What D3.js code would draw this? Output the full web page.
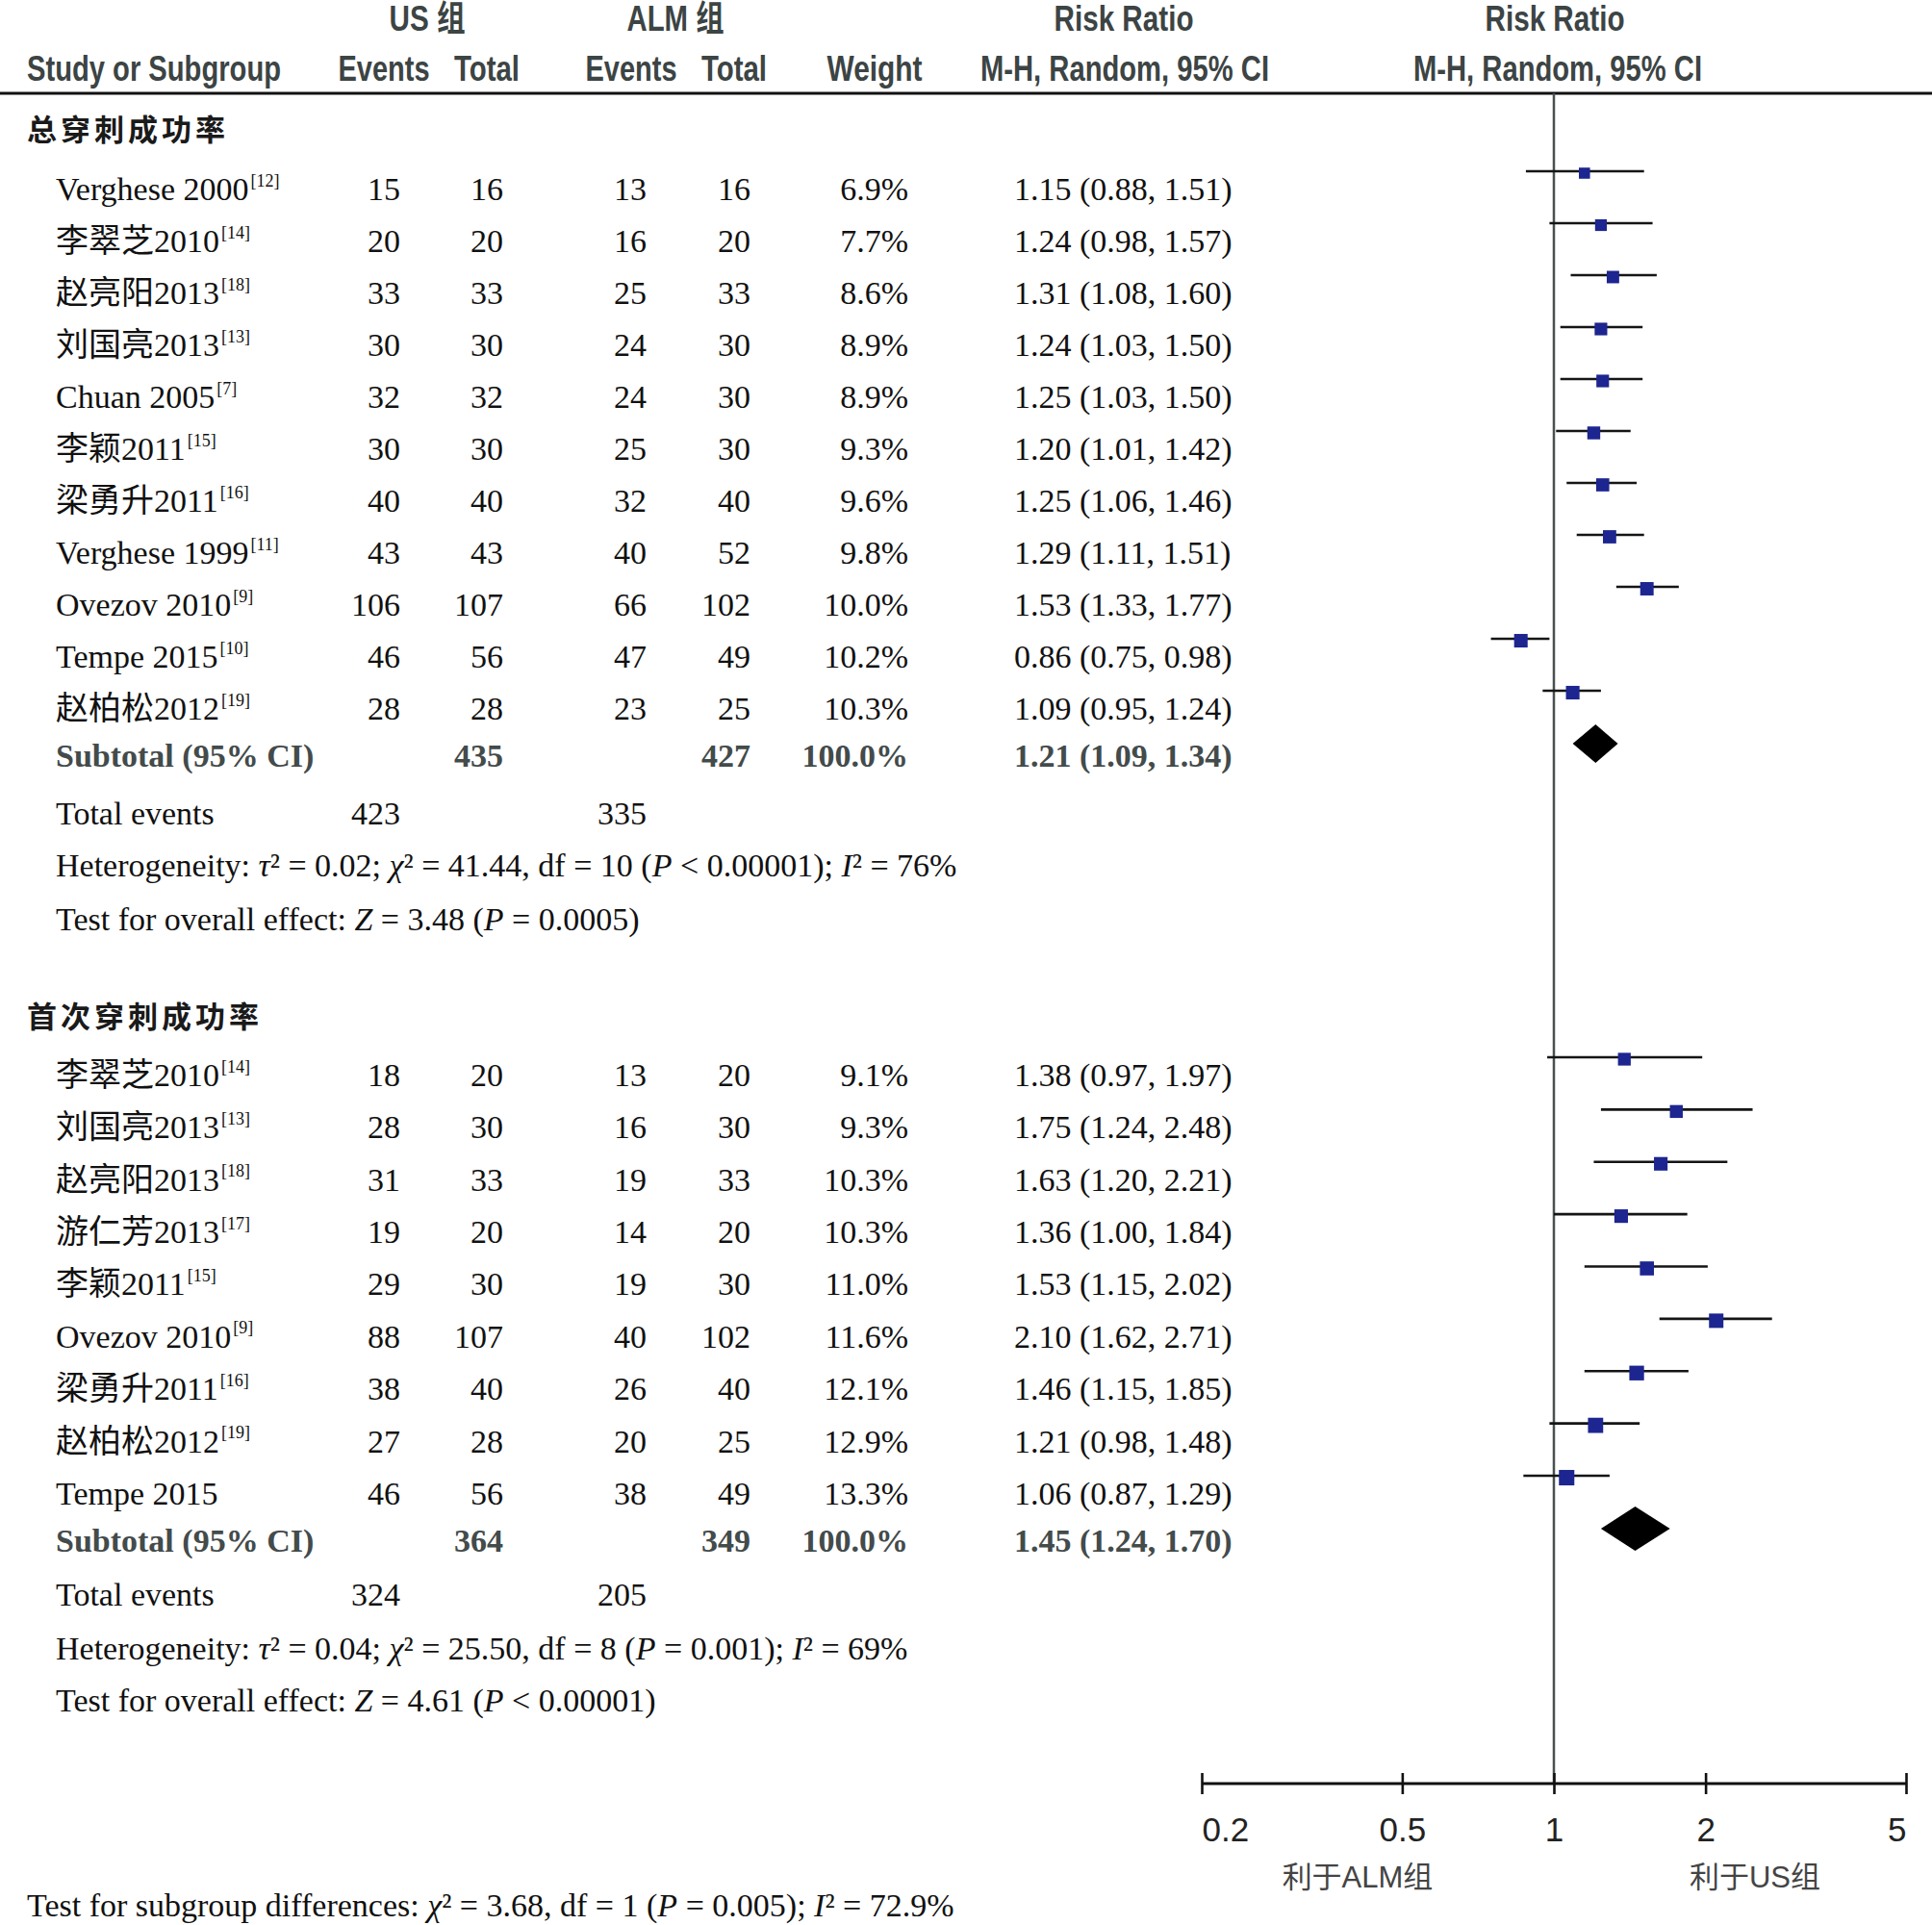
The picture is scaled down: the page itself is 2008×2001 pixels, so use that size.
<!DOCTYPE html>
<html>
<head>
<meta charset="utf-8">
<script src="https://cdn.jsdelivr.net/npm/d3@7/dist/d3.min.js"></script>
<style>
  body { margin: 0; background: #fff; }
  .hdr { font-family: "Liberation Sans", Arial, sans-serif; font-weight: bold; font-size: 36px; fill: #3c4444; }
  .hdr-cjk { font-family: "Liberation Sans", "Noto Sans CJK SC", sans-serif; }
  .body { font-family: "Liberation Serif", "Noto Sans CJK SC", serif; font-size: 34px; fill: #111; }
  .sub { font-weight: bold; fill: #434b4b; }
  .grp { font-family: "Noto Sans CJK SC", sans-serif; font-weight: bold; font-size: 31px; letter-spacing: 4px; fill: #1a1a1a; }
  .tick text { font-family: "Liberation Sans", Arial, sans-serif; font-size: 35px; fill: #222; }
  .dir { font-family: "Liberation Sans", "Noto Sans CJK SC", sans-serif; font-size: 31px; fill: #444; }
</style>
</head>
<body>
<svg id="forest" width="2008" height="2001"></svg>
<script>
// ---- data: 总穿刺成功率 ----
const names1    = ["Verghese 2000", "李翠芝2010", "赵亮阳2013", "刘国亮2013", "Chuan 2005", "李颖2011", "梁勇升2011", "Verghese 1999", "Ovezov 2010", "Tempe 2015", "赵柏松2012"];
const refs1     = ["12", "14", "18", "13", "7", "15", "16", "11", "9", "10", "19"];
const usEv1     = [15, 20, 33, 30, 32, 30, 40, 43, 106, 46, 28];
const usTot1    = [16, 20, 33, 30, 32, 30, 40, 43, 107, 56, 28];
const almEv1    = [13, 16, 25, 24, 24, 25, 32, 40, 66, 47, 23];
const almTot1   = [16, 20, 33, 30, 30, 30, 40, 52, 102, 49, 25];
const weight1   = [6.9, 7.7, 8.6, 8.9, 8.9, 9.3, 9.6, 9.8, 10.0, 10.2, 10.3];
const rr1       = [1.15, 1.24, 1.31, 1.24, 1.25, 1.20, 1.25, 1.29, 1.53, 0.86, 1.09];
const lo1       = [0.88, 0.98, 1.08, 1.03, 1.03, 1.01, 1.06, 1.11, 1.33, 0.75, 0.95];
const hi1       = [1.51, 1.57, 1.60, 1.50, 1.50, 1.42, 1.46, 1.51, 1.77, 0.98, 1.24];
const subtotal1 = { usTot: 435, almTot: 427, rr: 1.21, lo: 1.09, hi: 1.34, usEv: 423, almEv: 335 };

// ---- data: 首次穿刺成功率 ----
const names2    = ["李翠芝2010", "刘国亮2013", "赵亮阳2013", "游仁芳2013", "李颖2011", "Ovezov 2010", "梁勇升2011", "赵柏松2012", "Tempe 2015"];
const refs2     = ["14", "13", "18", "17", "15", "9", "16", "19", ""];
const usEv2     = [18, 28, 31, 19, 29, 88, 38, 27, 46];
const usTot2    = [20, 30, 33, 20, 30, 107, 40, 28, 56];
const almEv2    = [13, 16, 19, 14, 19, 40, 26, 20, 38];
const almTot2   = [20, 30, 33, 20, 30, 102, 40, 25, 49];
const weight2   = [9.1, 9.3, 10.3, 10.3, 11.0, 11.6, 12.1, 12.9, 13.3];
const rr2       = [1.38, 1.75, 1.63, 1.36, 1.53, 2.10, 1.46, 1.21, 1.06];
const lo2       = [0.97, 1.24, 1.20, 1.00, 1.15, 1.62, 1.15, 0.98, 0.87];
const hi2       = [1.97, 2.48, 2.21, 1.84, 2.02, 2.71, 1.85, 1.48, 1.29];
const subtotal2 = { usTot: 364, almTot: 349, rr: 1.45, lo: 1.24, hi: 1.70, usEv: 324, almEv: 205 };

const tickValues = [0.2, 0.5, 1, 2, 5];

const svg = d3.select("#forest");
const width = +svg.attr("width");

// column positions (right edges of number columns)
const col = { name: 58, usEv: 416, usTot: 523, almEv: 672, almTot: 780, weight: 944, ci: 1054 };

const x = d3.scaleLog().domain([0.2, 5]).range([1249, 1981]);
const axisY = 1854;
const headLineY = 97;

const fmt2 = d3.format(".2f");
const ciText = (r, l, h) => `${fmt2(r)} (${fmt2(l)}, ${fmt2(h)})`;

// ---- header (condensed bold, squeezed to the reference widths) ----
const hdr = svg.append("g");
const hdrText = (tx, ty, s, len, anchor, cls) => hdr.append("text")
  .attr("class", "hdr" + (cls ? " " + cls : ""))
  .attr("x", tx).attr("y", ty).attr("dy", "0.35em")
  .attr("text-anchor", anchor || "middle")
  .attr("textLength", len).attr("lengthAdjust", "spacingAndGlyphs")
  .text(s);
hdrText(444, 19, "US 组", 79, "middle", "hdr-cjk");
hdrText(702, 19, "ALM 组", 101, "middle", "hdr-cjk");
hdrText(1168, 19, "Risk Ratio", 145);
hdrText(1616, 19, "Risk Ratio", 145);
hdrText(28, 71, "Study or Subgroup", 264, "start");
hdrText(399, 71, "Events", 95);
hdrText(506, 71, "Total", 68);
hdrText(656, 71, "Events", 95);
hdrText(763, 71, "Total", 68);
hdrText(909, 71, "Weight", 99);
hdrText(1169, 71, "M-H, Random, 95% CI", 300);
hdrText(1619, 71, "M-H, Random, 95% CI", 300);

svg.append("line").attr("x1", 0).attr("x2", width)
  .attr("y1", headLineY).attr("y2", headLineY)
  .attr("stroke", "#111").attr("stroke-width", 3);

// null line
svg.append("line").attr("x1", x(1)).attr("x2", x(1))
  .attr("y1", headLineY).attr("y2", axisY)
  .attr("stroke", "#4a5050").attr("stroke-width", 2.5);

function drawGroup(opt) {
  const g = svg.append("g");
  const n = opt.names.length;
  const rowY = d3.scaleLinear().domain([0, n - 1]).range(opt.rowRange);
  const rows = d3.range(n).map(i => ({
    name: opt.names[i], ref: opt.refs[i], usEv: opt.usEv[i], usTot: opt.usTot[i],
    almEv: opt.almEv[i], almTot: opt.almTot[i], w: opt.weight[i],
    rr: opt.rr[i], lo: opt.lo[i], hi: opt.hi[i], y: rowY(i)
  }));

  g.append("text").attr("class", "grp").attr("x", 28).attr("y", opt.titleY)
    .attr("dy", "0.35em").text(opt.title);

  const row = g.selectAll(".row").data(rows).enter().append("g").attr("class", "row");

  const name = row.append("text").attr("class", "body").attr("x", col.name)
    .attr("y", d => d.y).attr("dy", "0.35em");
  name.append("tspan").text(d => d.name);
  name.filter(d => d.ref).append("tspan")
    .attr("dy", "-0.8em").attr("dx", 2).attr("font-size", 18).text(d => `[${d.ref}]`);

  const num = (key, cx, f) => row.append("text").attr("class", "body")
    .attr("x", cx).attr("y", d => d.y).attr("dy", "0.35em").attr("text-anchor", "end")
    .text(d => f ? f(d[key]) : d[key]);
  num("usEv", col.usEv);
  num("usTot", col.usTot);
  num("almEv", col.almEv);
  num("almTot", col.almTot);
  num("w", col.weight, v => v.toFixed(1) + "%");
  row.append("text").attr("class", "body").attr("x", col.ci).attr("y", d => d.y)
    .attr("dy", "0.35em").text(d => ciText(d.rr, d.lo, d.hi));

  // CI lines and boxes
  const my = d => d.y - 18;
  row.append("line")
    .attr("x1", d => x(d.lo)).attr("x2", d => x(d.hi))
    .attr("y1", my).attr("y2", my)
    .attr("stroke", "#151515").attr("stroke-width", 2.6);
  const side = d => 4.4 * Math.sqrt(d.w);
  row.append("rect")
    .attr("x", d => x(d.rr) - side(d) / 2).attr("y", d => my(d) - side(d) / 2 + 2)
    .attr("width", side).attr("height", side)
    .attr("fill", "#1d2590");

  // subtotal
  const s = opt.subtotal;
  const sy = opt.subY;
  const subText = (tx, str, anchor) => g.append("text").attr("class", "body sub")
    .attr("x", tx).attr("y", sy).attr("dy", "0.35em").attr("text-anchor", anchor || "start").text(str);
  subText(col.name, "Subtotal (95% CI)");
  subText(col.usTot, s.usTot, "end");
  subText(col.almTot, s.almTot, "end");
  subText(col.weight, "100.0%", "end");
  subText(col.ci, ciText(s.rr, s.lo, s.hi));

  const dy = sy - 12, dh = opt.diamondH;
  g.append("path")
    .attr("d", `M${x(s.lo)},${dy} L${x(s.rr)},${dy - dh} L${x(s.hi)},${dy} L${x(s.rr)},${dy + dh} Z`)
    .attr("fill", "#000");

  // totals and stats
  const te = g.append("g");
  te.append("text").attr("class", "body").attr("x", col.name).attr("y", opt.totY).attr("dy", "0.35em").text("Total events");
  te.append("text").attr("class", "body").attr("x", col.usEv).attr("y", opt.totY).attr("dy", "0.35em").attr("text-anchor", "end").text(s.usEv);
  te.append("text").attr("class", "body").attr("x", col.almEv).attr("y", opt.totY).attr("dy", "0.35em").attr("text-anchor", "end").text(s.almEv);

  const rich = (ty, parts) => {
    const t = g.append("text").attr("class", "body").attr("x", col.name).attr("y", ty).attr("dy", "0.35em");
    parts.forEach(p => {
      const ts = t.append("tspan").text(p[0]);
      if (p[1]) ts.attr("font-style", "italic");
    });
  };
  rich(opt.hetY, opt.het);
  rich(opt.effY, opt.eff);
}

drawGroup({
  title: "总穿刺成功率", titleY: 135,
  names: names1, refs: refs1, usEv: usEv1, usTot: usTot1, almEv: almEv1, almTot: almTot1,
  weight: weight1, rr: rr1, lo: lo1, hi: hi1, subtotal: subtotal1,
  rowRange: [196, 736], subY: 785, diamondH: 20, totY: 845, hetY: 899, effY: 955,
  het: [["Heterogeneity: "], ["τ", 1], ["² = 0.02; "], ["χ", 1], ["² = 41.44, df = 10 ("], ["P", 1], [" < 0.00001); "], ["I", 1], ["² = 76%"]],
  eff: [["Test for overall effect: "], ["Z", 1], [" = 3.48 ("], ["P", 1], [" = 0.0005)"]]
});

drawGroup({
  title: "首次穿刺成功率", titleY: 1057,
  names: names2, refs: refs2, usEv: usEv2, usTot: usTot2, almEv: almEv2, almTot: almTot2,
  weight: weight2, rr: rr2, lo: lo2, hi: hi2, subtotal: subtotal2,
  rowRange: [1117, 1552], subY: 1601, diamondH: 23, totY: 1657, hetY: 1713, effY: 1767,
  het: [["Heterogeneity: "], ["τ", 1], ["² = 0.04; "], ["χ", 1], ["² = 25.50, df = 8 ("], ["P", 1], [" = 0.001); "], ["I", 1], ["² = 69%"]],
  eff: [["Test for overall effect: "], ["Z", 1], [" = 4.61 ("], ["P", 1], [" < 0.00001)"]]
});

// ---- axis ----
const tick = 11;
const axis = d3.axisBottom(x).tickValues(tickValues).tickFormat(d3.format("~g"))
  .tickSize(2 * tick).tickSizeOuter(0).tickPadding(0);
const ax = svg.append("g").attr("transform", `translate(0,${axisY - tick})`).call(axis);
ax.select(".domain").remove();
ax.selectAll(".tick line").attr("stroke", "#111").attr("stroke-width", 2.6);
ax.selectAll(".tick text").attr("y", 1902 - axisY + tick).attr("dy", "0.35em")
  .attr("text-anchor", (d, i) => i === 0 ? "start" : (i === tickValues.length - 1 ? "end" : "middle"));
svg.append("line").attr("x1", x(0.2)).attr("x2", x(5)).attr("y1", axisY).attr("y2", axisY)
  .attr("stroke", "#111").attr("stroke-width", 3);

svg.append("text").attr("class", "dir").attr("x", 1411).attr("y", 1951).attr("dy", "0.35em")
  .attr("text-anchor", "middle").text("利于ALM组");
svg.append("text").attr("class", "dir").attr("x", 1824).attr("y", 1951).attr("dy", "0.35em")
  .attr("text-anchor", "middle").text("利于US组");

// subgroup differences
const sg = svg.append("text").attr("class", "body").attr("x", 28).attr("y", 1980).attr("dy", "0.35em");
[["Test for subgroup differences: "], ["χ", 1], ["² = 3.68, df = 1 ("], ["P", 1], [" = 0.005); "], ["I", 1], ["² = 72.9%"]]
  .forEach(p => { const t = sg.append("tspan").text(p[0]); if (p[1]) t.attr("font-style", "italic"); });
</script>
</body>
</html>
